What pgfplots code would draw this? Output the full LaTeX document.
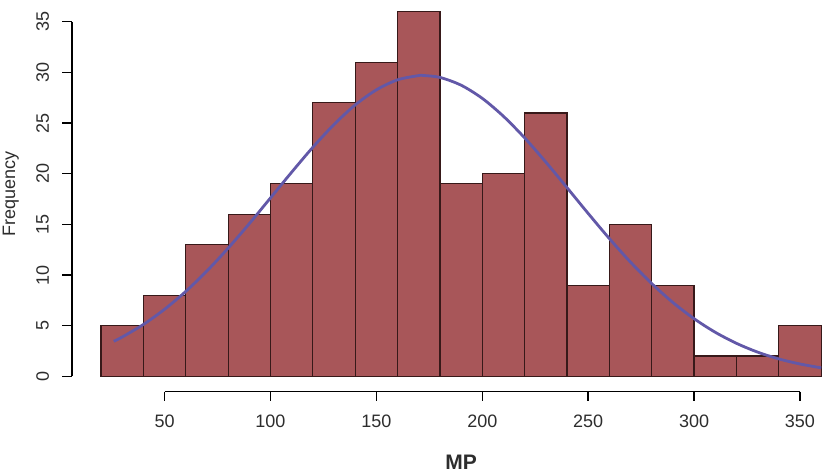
\documentclass[border=0pt]{standalone}
\usepackage{fontspec}
\setmainfont{Liberation Sans}
\usepackage{pgfplots}
\pgfplotsset{compat=1.18}
\definecolor{barfill}{RGB}{168,86,89}
\definecolor{barline}{RGB}{55,25,25}
\definecolor{curvecol}{RGB}{98,88,168}
\definecolor{txt}{RGB}{45,45,45}
\begin{document}
\begin{tikzpicture}[font=\fontsize{9}{11}\selectfont]
\begin{axis}[x=1.059pt, y=5.065pt,
  xmin=6.4, xmax=373.6, ymin=-1.44, ymax=37.44,
  hide axis, clip=false]
\addplot[ybar interval, fill=barfill, draw=barline, line width=0.6pt] coordinates {
(20,5) (40,8) (60,13) (80,16) (100,19) (120,27) (140,31) (160,36) (180,19)
(200,20) (220,26) (240,9) (260,15) (280,9) (300,2) (320,2) (340,5) (360,5)};
\addplot[curvecol, line width=1.4pt, smooth, no marks] coordinates {
(26,3.46) (30,3.88) (40,5.12) (50,6.62) (60,8.38) (70,10.40) (80,12.65) (90,15.07)
(100,17.61) (110,20.15) (120,22.61) (130,24.86) (140,26.79) (150,28.28) (160,29.27)
(170,29.69) (172,29.70) (180,29.51) (190,28.74) (200,27.44) (210,25.67) (220,23.54)
(230,21.15) (240,18.63) (250,16.08) (260,13.60) (270,11.27) (280,9.16) (290,7.29)
(300,5.69) (310,4.35) (320,3.26) (330,2.39) (340,1.72) (350,1.22) (360,0.84)};
% x axis (R style)
\draw[line width=0.7pt] (axis cs:50,-1.52) -- (axis cs:350,-1.52);
\pgfplotsinvokeforeach{50,100,150,200,250,300,350}{
  \draw[line width=0.7pt] (axis cs:#1,-1.52) -- (axis cs:#1,-2.41);
  \node[txt] at (axis cs:#1,-4.48) {#1};
}
% y axis
\draw[line width=0.7pt] (axis cs:6.31,0) -- (axis cs:6.31,35);
\pgfplotsinvokeforeach{0,5,10,15,20,25,30,35}{
  \draw[line width=0.7pt] (axis cs:6.31,#1) -- (axis cs:1.59,#1);
  \node[txt, rotate=90] at (axis cs:-7.6,#1) {#1};
}
\node[txt, font=\fontsize{10.5}{12}\selectfont\bfseries] at (axis cs:190,-8.51) {MP};
\node[txt, rotate=90, anchor=base, inner sep=0pt] at (axis cs:-20.6,18.0) {Frequency};
\coordinate (bbA) at (axis cs:-27.7,-9.45);
\coordinate (bbB) at (axis cs:363.7,37.15);
\end{axis}
\pgfresetboundingbox
\useasboundingbox (bbA) rectangle (bbB);
\end{tikzpicture}
\end{document}
